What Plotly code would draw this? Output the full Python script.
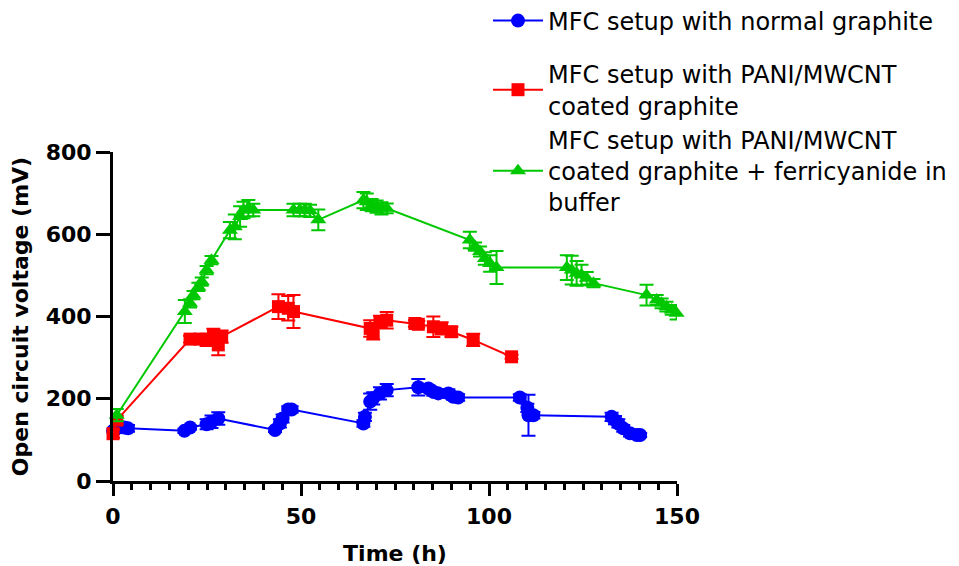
import plotly.graph_objects as go

# ---- data ----
blue_t = [0, 1, 2, 3, 4, 19, 20.5, 24.9, 26.2, 28, 43.1, 44.4, 45.1, 46.6, 47.5,
          66.6, 67, 68.4, 69.2, 71, 72.8, 81.2, 83.9, 85.2, 86.5, 89.2, 90.5, 91.8,
          108.2, 110.2, 110.5, 111.8, 132.6, 133.5, 134.4, 135.7, 137.5, 139.3, 140.2]
blue_v = [122, 130, 131, 130, 128, 122, 130, 138, 144, 152, 124, 140, 152, 174, 174,
          140, 156, 193, 201, 213, 221, 228, 225, 217, 213, 213, 205, 203,
          203, 178, 160, 160, 156, 148, 140, 128, 116, 112, 112]
blue_e = [8, 8, 8, 8, 8, 5, 5, 12, 15, 15, 5, 10, 10, 8, 8,
          8, 10, 20, 15, 15, 15, 20, 8, 10, 10, 10, 8, 8,
          8, 10, 50, 8, 10, 10, 10, 8, 8, 5, 5]

red_t = [0, 1, 20.5, 23.1, 24.9, 26.7, 28, 28.9, 44, 46.6, 48, 68.4, 69.2, 71, 72.8,
         80.3, 81.2, 85.2, 87.4, 90, 95.8, 106]
red_v = [115, 148, 345, 345, 343, 355, 331, 351, 424, 420, 412, 371, 359, 387, 391,
         383, 381, 375, 371, 363, 343, 302]
red_e = [10, 10, 8, 10, 15, 15, 25, 15, 30, 30, 40, 20, 15, 15, 20,
         8, 8, 25, 15, 12, 15, 5]

green_t = [1, 19.1, 20.5, 21.4, 22.7, 23.6, 24.9, 26.2, 31.1, 32.4, 33.8, 34.7, 36, 37.3,
           48, 49.7, 51, 52.4, 54.6, 66.6, 67.5, 68.8, 70.1, 71.4, 72.8,
           94.9, 96.3, 97.6, 98.9, 100.3, 102, 120.7, 122, 123.3, 124.6, 126, 127.8,
           141.9, 144.6, 145.9, 147.2, 148.6, 149.9]
green_v = [160, 412, 432, 452, 472, 485, 513, 537, 610, 618, 643, 659, 663, 659,
           659, 659, 659, 657, 635, 683, 679, 671, 667, 663, 663,
           586, 570, 558, 541, 529, 519, 519, 513, 505, 501, 493, 481,
           452, 440, 432, 424, 416, 408]
green_e = [15, 28, 10, 10, 10, 10, 10, 10, 20, 30, 25, 20, 20, 15,
           15, 15, 15, 15, 25, 20, 20, 15, 15, 15, 12,
           20, 10, 12, 15, 20, 40, 30, 35, 30, 25, 15, 10,
           25, 12, 12, 12, 12, 15]

names = ["MFC setup with normal graphite",
         "MFC setup with PANI/MWCNT<br>coated graphite",
         "MFC setup with PANI/MWCNT<br>coated graphite + ferricyanide in<br>buffer"]

x_ticks = [0, 50, 100, 150]
y_ticks = [0, 200, 400, 600, 800]

BLUE, RED, GREEN = "#0000FF", "#FF0000", "#00C800"

# the page body has an 8px margin, so the figure is drawn 8px smaller
W, H = 951, 558

fig = go.Figure()

def add(t, v, e, name, color, symbol, size, legend):
    fig.add_trace(go.Scatter(
        x=t, y=v, name=name, mode="lines+markers",
        line=dict(color=color, width=2),
        marker=dict(color=color, symbol=symbol, size=size),
        error_y=dict(type="data", array=e, visible=True, color=color,
                     thickness=2, width=7),
        cliponaxis=False, legend=legend,
    ))

add(blue_t, blue_v, blue_e, names[0], BLUE, "circle", 14, "legend")
add(red_t, red_v, red_e, names[1], RED, "square", 13, "legend2")
add(green_t, green_v, green_e, names[2], GREEN, "triangle-up", 14, "legend2")

tick_font = dict(family="DejaVu Sans", size=22, color="black", weight="bold")
leg_font = dict(family="DejaVu Sans", size=24, color="black")

fig.update_layout(
    width=W, height=H, showlegend=True,
    margin=dict(l=105, r=282, t=144, b=85, autoexpand=False),
    paper_bgcolor="white", plot_bgcolor="white",
    font=dict(family="DejaVu Sans", color="black"),
    legend=dict(
        xref="container", yref="container",
        x=480 / W, y=1 - 13 / H, xanchor="left", yanchor="middle",
        font=leg_font, bgcolor="rgba(0,0,0,0)", itemwidth=50,
    ),
    legend2=dict(
        xref="container", yref="container",
        x=480 / W, y=1 - 44 / H, xanchor="left", yanchor="top",
        font=leg_font, bgcolor="rgba(0,0,0,0)", itemwidth=50,
    ),
    xaxis=dict(
        range=[0, 150], tickvals=x_ticks, showgrid=False, zeroline=False,
        showline=True, linecolor="black", linewidth=3, automargin=False,
        ticks="outside", ticklen=12, tickwidth=3, tickcolor="black",
        minor=dict(dtick=5, tick0=0, ticks="outside", ticklen=6, tickwidth=3,
                   tickcolor="black", showgrid=False),
        tickfont=tick_font, ticklabelstandoff=2,
        title=dict(text="Time (h)", font=tick_font, standoff=19),
    ),
    yaxis=dict(
        range=[0, 800], tickvals=y_ticks, showgrid=False, zeroline=False,
        showline=True, linecolor="black", linewidth=3, automargin=False,
        ticks="outside", ticklen=14, tickwidth=3, tickcolor="black",
        tickfont=tick_font, ticklabelstandoff=0,
        title=dict(text="Open circuit voltage (mV)", font=tick_font, standoff=12),
    ),
)

fig.write_html("out.html")
